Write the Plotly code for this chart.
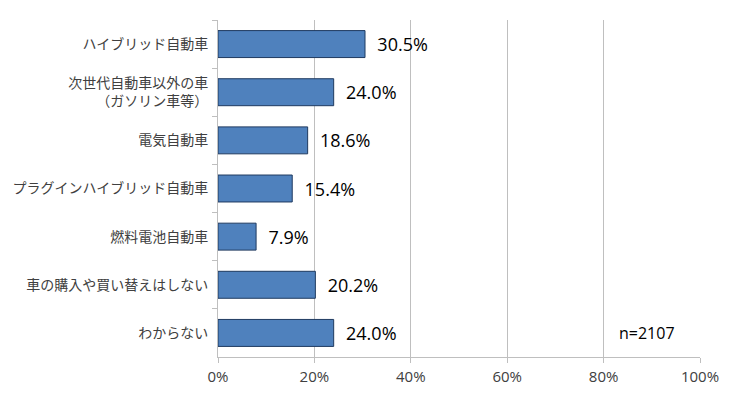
import plotly.graph_objects as go

categories = ["ハイブリッド自動車", "次世代自動車以外の車<br>（ガソリン車等）", "電気自動車",
              "プラグインハイブリッド自動車", "燃料電池自動車", "車の購入や買い替えはしない", "わからない"]
values = [30.5, 24.0, 18.6, 15.4, 7.9, 20.2, 24.0]
tick_vals = [0, 20, 40, 60, 80, 100]
tick_text = ["0%", "20%", "40%", "60%", "80%", "100%"]
sample_note = "n=2107"

fig = go.Figure(go.Bar(
    x=values, y=categories, orientation="h",
    marker=dict(color="#4F81BD", line=dict(color="#1F3A60", width=1)),
    text=["  " + f"{v:.1f}%" for v in values],
    textposition="outside",
    constraintext="none",
    textfont=dict(family="Open Sans, Liberation Sans", size=18, color="#000000"),
    cliponaxis=False,
    width=0.56,
))

fig.update_layout(
    width=740, height=396,
    margin=dict(l=210, r=48, t=12, b=47),
    plot_bgcolor="white", paper_bgcolor="white",
    showlegend=False,
    font=dict(family="Noto Sans CJK JP", color="#404040"),
)
fig.update_xaxes(
    range=[0, 100], tickvals=tick_vals, ticktext=tick_text,
    showgrid=True, gridcolor="#BFBFBF", gridwidth=1,
    showline=True, linecolor="#BFBFBF", linewidth=1,
    ticks="outside", ticklen=5, tickcolor="#BFBFBF",
    ticklabelstandoff=1, automargin=False,
    tickfont=dict(family="Open Sans, Liberation Sans", size=15, color="#404040"),
    zeroline=False, fixedrange=True,
)
fig.update_yaxes(
    autorange="reversed", type="category",
    showline=True, linecolor="#BFBFBF", linewidth=1,
    ticks="outside", ticklen=5, tickcolor="#BFBFBF", tickson="boundaries",
    ticklabelstandoff=6, automargin=False,
    tickfont=dict(family="Noto Sans CJK JP", size=14, color="#404040"),
    showgrid=False,
)
fig.add_annotation(
    x=89, y=6, xref="x", yref="y", text=sample_note, showarrow=False,
    font=dict(family="Open Sans, Liberation Sans", size=16, color="#000000"),
)

fig.write_html("out.html")
